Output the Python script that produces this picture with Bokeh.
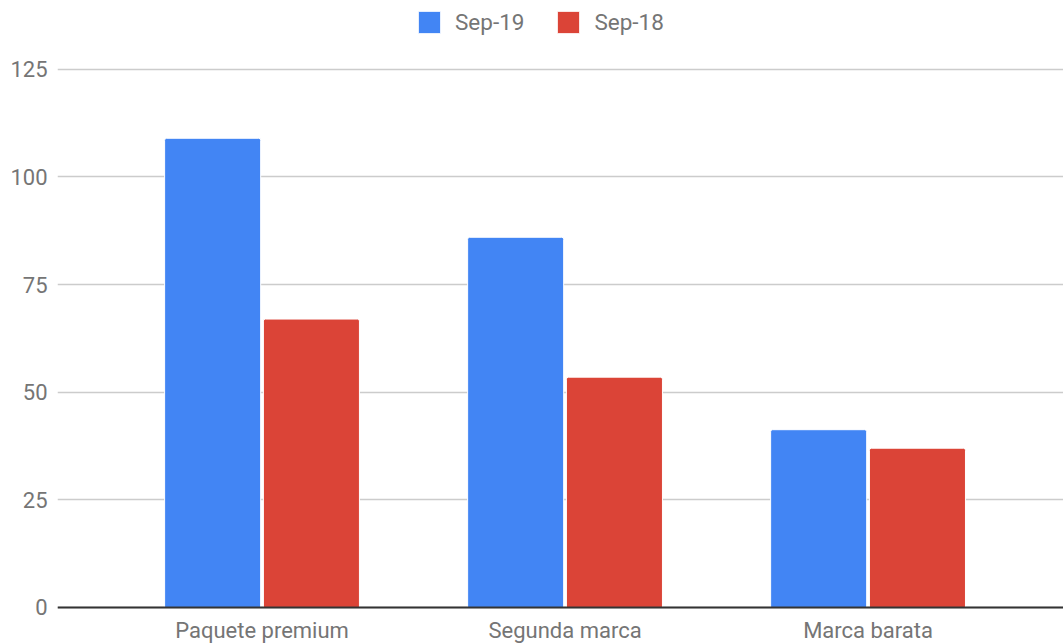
from bokeh.plotting import figure
from bokeh.core.properties import value
from bokeh.models import ColumnDataSource, FixedTicker, Legend, LegendItem, Range1d, Span
from bokeh.transform import dodge
from bokeh.embed import file_html
from bokeh.resources import INLINE

# Data
categories = ["Paquete premium", "Segunda marca", "Marca barata"]
sep19 = [109, 86, 41.3]
sep18 = [67, 53.5, 37]
y_ticks = [0, 25, 50, 75, 100, 125]

BLUE = "#4285F4"
RED = "#DB4437"
TEXT = "#757575"
FONT = "Roboto"

source = ColumnDataSource(dict(
    x=list(range(len(categories))),
    cat=categories,
    sep19=sep19,
    sep18=sep18,
))

# The plot frame runs to the bottom edge; category names sit below the zero line
p = figure(
    width=1063, height=644,
    x_range=Range1d(-0.675, 2.645),
    y_range=Range1d(-8.6, 141.0),
    output_backend="svg",
    toolbar_location=None,
    min_border_left=57, min_border_right=0,
    min_border_top=0, min_border_bottom=0,
)
p.outline_line_color = None
p.background_fill_color = "white"
p.border_fill_color = "white"

bar_w = 0.317
r19 = p.vbar(x=dodge("x", -0.163), top="sep19", width=bar_w, bottom=0, source=source,
             fill_color=BLUE, line_color="white", line_width=1, border_radius=(2, 2, 0, 0))
r18 = p.vbar(x=dodge("x", 0.163), top="sep18", width=bar_w, bottom=0, source=source,
             fill_color=RED, line_color="white", line_width=1, border_radius=(2, 2, 0, 0))

# Baseline
p.add_layout(Span(location=0, dimension="width", line_color="#333333", line_width=2))

# Category labels
p.text(x="x", y=0, text="cat", source=source, y_offset=23,
       text_align="center", text_baseline="middle",
       text_font=value(FONT), text_font_size=value("22px"), text_color=TEXT)

p.xaxis.visible = False

p.yaxis.ticker = FixedTicker(ticks=y_ticks)
p.yaxis.axis_line_color = None
p.yaxis.major_tick_line_color = None
p.yaxis.minor_tick_line_color = None
p.yaxis.major_tick_out = 0
p.yaxis.major_label_standoff = 10
p.yaxis.major_label_text_font = FONT
p.yaxis.major_label_text_font_size = "22px"
p.yaxis.major_label_text_color = TEXT

p.xgrid.grid_line_color = None
p.ygrid.grid_line_color = "#cccccc"
p.ygrid.grid_line_width = 1.5

legend = Legend(
    items=[LegendItem(label="Sep-19", renderers=[r19]),
           LegendItem(label="Sep-18", renderers=[r18])],
    orientation="horizontal",
    location=(358, 608),
    glyph_width=28, glyph_height=28,
    label_standoff=12, spacing=30,
    padding=0, margin=0,
    border_line_color=None,
    background_fill_alpha=0,
    label_text_font=FONT,
    label_text_font_size="22.5px",
    label_text_color=TEXT,
)
p.add_layout(legend, "center")

open("out.html", "w").write(file_html(p, INLINE))
